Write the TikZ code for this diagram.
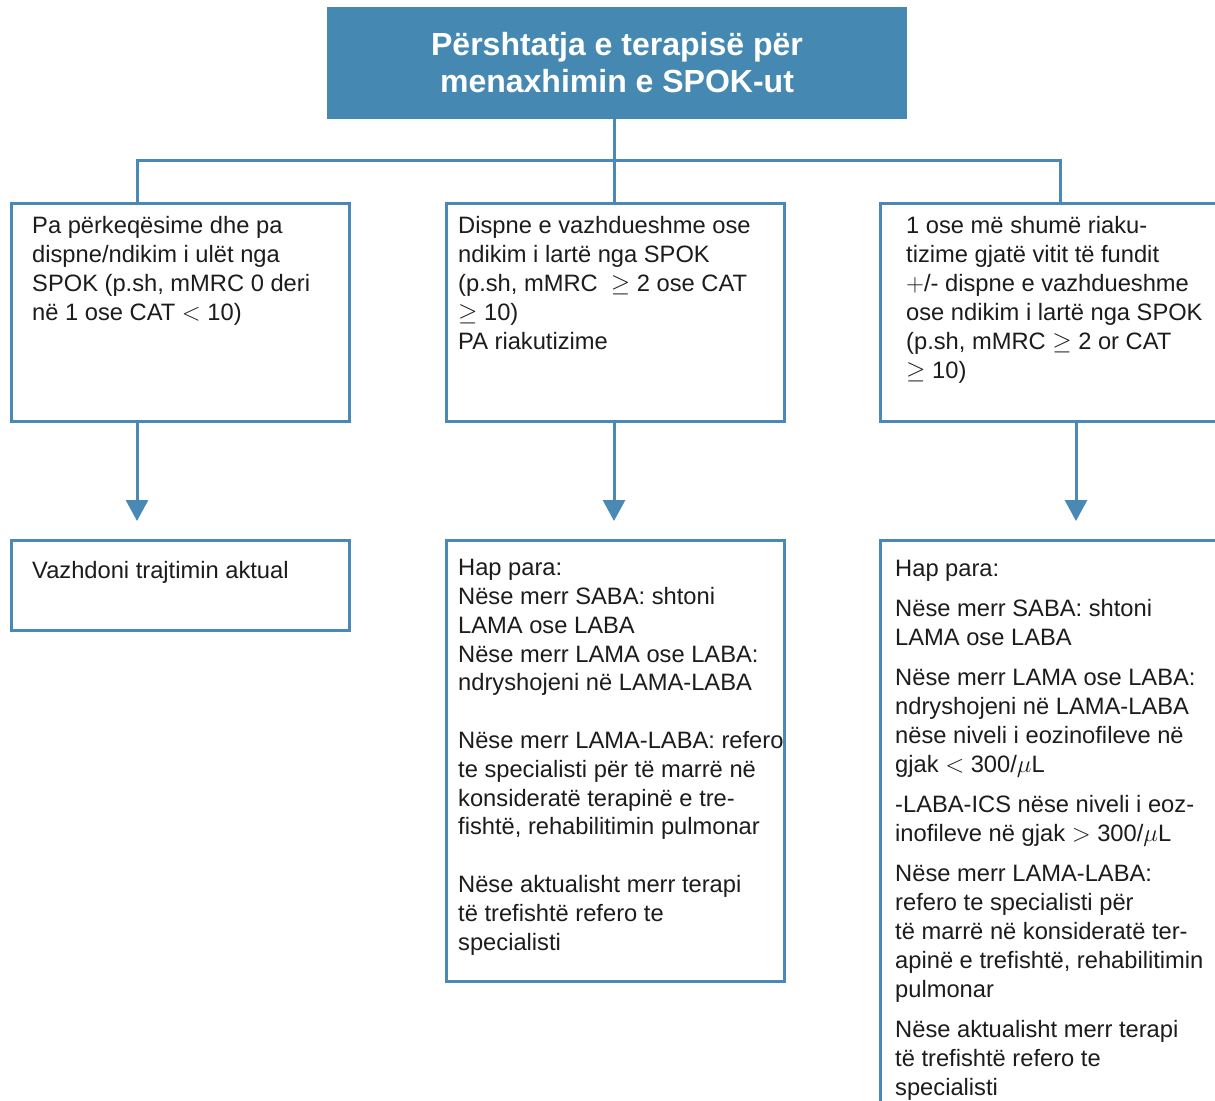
\documentclass[tikz,border=0pt]{standalone}
\usepackage{fontspec}
\setmainfont{Liberation Sans}
\usetikzlibrary{arrows.meta}
\definecolor{titleblue}{HTML}{4588B2}
\definecolor{lineblue}{HTML}{4A89B5}
\definecolor{txt}{HTML}{1C1C1C}
\tikzset{
  box/.style={draw=lineblue, line width=3pt, fill=white, rectangle, inner sep=0pt, anchor=north west},
  conn/.style={draw=lineblue, line width=3pt},
  arr/.style={conn, -{Triangle[length=21pt,width=22pt]}, shorten >=18pt},
  txtnode/.style={anchor=base west, inner sep=0pt, align=left, text=txt,
    font=\fontsize{23.7}{29}\selectfont},
}
\begin{document}
\begin{tikzpicture}[x=1pt,y=-1pt]
\clip (0,0) rectangle (1215,1100);
\useasboundingbox (0,0) rectangle (1215,1100);
\fill[white] (0,0) rectangle (1215,1100);

% title
\node[fill=titleblue, rectangle, minimum width=580pt, minimum height=112pt, inner sep=0pt, anchor=north west] (title) at (327,7) {};
% anchor base = baseline of the last line
\node[anchor=base, inner sep=0pt, align=center, text=white, font=\fontsize{32}{37}\bfseries\selectfont] (ttext) at (617,92) {Përshtatja e terapisë për\\menaxhimin e SPOK-ut};

% boxes
\node[box, minimum width=338pt, minimum height=218pt] (a1) at (10,202) {};
\node[box, minimum width=338pt, minimum height=218pt] (b1) at (445,202) {};
\node[box, minimum width=362pt, minimum height=218pt] (c1) at (879,202) {};
\node[box, minimum width=338pt, minimum height=90pt] (a2) at (10,539) {};
\node[box, minimum width=338pt, minimum height=441pt] (b2) at (445,539) {};
\node[box, minimum width=362pt, minimum height=600pt] (c2) at (879,539) {};

% junction coordinates
\coordinate (jA) at (137,160);
\coordinate (jB) at (614,160);
\coordinate (jC) at (1060,160);
\coordinate (xC) at (1076,0);

% connectors
\draw[conn] (title.south -| jB) -- (jB);
\draw[conn] (a1.north -| jA) -- (jA) -- (jC) -- (c1.north -| jC);
\draw[conn] (jB) -- (b1.north -| jB);
\draw[arr] (a1.south -| jA) -- (a2.north -| jA);
\draw[arr] (b1.south -| jB) -- (b2.north -| jB);
\draw[arr] (c1.south -| xC) -- (c2.north -| xC);

% texts (positions = baseline of the last line)
\node[txtnode] (ta1) at (32,320) {Pa përkeqësime dhe pa\\dispne/ndikim i ulët nga\\SPOK (p.sh, mMRC 0 deri\\në 1 ose CAT $<$ 10)};
\node[txtnode] (tb1) at (458,349) {Dispne e vazhdueshme ose\\ndikim i lartë nga SPOK\\(p.sh, mMRC \ $\geq$ 2 ose CAT\\$\geq$ 10)\\PA riakutizime};
\node[txtnode] (tc1) at (906,378) {1 ose më shumë riaku-\\tizime gjatë vitit të fundit\\$+$/- dispne e vazhdueshme\\ose ndikim i lartë nga SPOK\\(p.sh, mMRC $\geq$ 2 or CAT\\$\geq$ 10)};
\node[txtnode] (ta2) at (32,578) {Vazhdoni trajtimin aktual};
\node[txtnode, font=\fontsize{23.7}{28.8}\selectfont] (tb2) at (458,950) {Hap para:\\Nëse merr SABA: shtoni\\LAMA ose LABA\\Nëse merr LAMA ose LABA:\\ndryshojeni në LAMA-LABA\\[28.8pt]Nëse merr LAMA-LABA: refero\\te specialisti për të marrë në\\konsideratë terapinë e tre-\\fishtë, rehabilitimin pulmonar\\[28.8pt]Nëse aktualisht merr terapi\\të trefishtë refero te\\specialisti};
\node[txtnode] (tc2) at (895,1095) {Hap para:\\[11pt]Nëse merr SABA: shtoni\\LAMA ose LABA\\[11pt]Nëse merr LAMA ose LABA:\\ndryshojeni në LAMA-LABA\\nëse niveli i eozinofileve në\\gjak $<$ 300/$\mu$L\\[11pt]-LABA-ICS nëse niveli i eoz-\\inofileve në gjak $>$ 300/$\mu$L\\[11pt]Nëse merr LAMA-LABA:\\refero te specialisti për\\të marrë në konsideratë ter-\\apinë e trefishtë, rehabilitimin\\pulmonar\\[11pt]Nëse aktualisht merr terapi\\të trefishtë refero te\\specialisti};
\end{tikzpicture}
\end{document}
